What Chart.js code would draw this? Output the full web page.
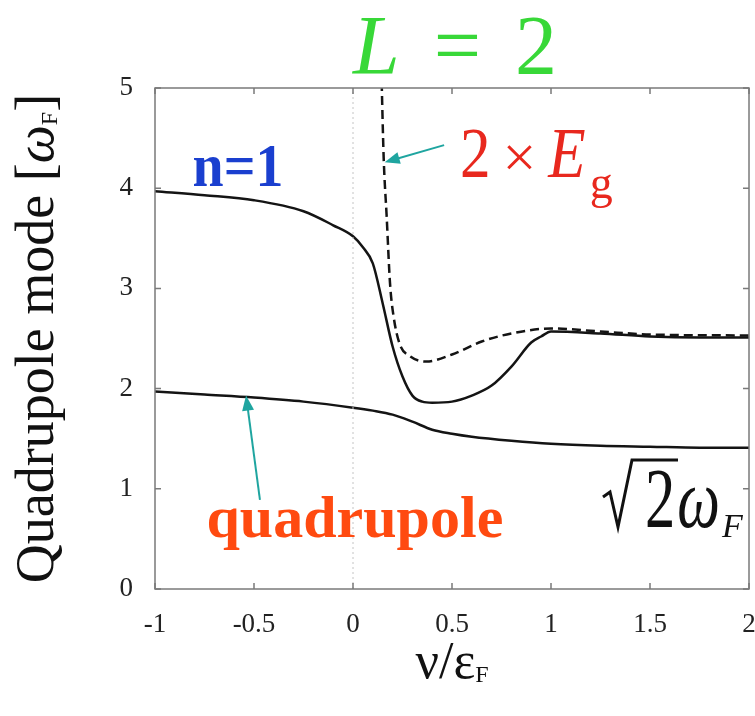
<!DOCTYPE html>
<html>
<head>
<meta charset="utf-8">
<script src="https://cdn.jsdelivr.net/npm/chart.js@4.4.1/dist/chart.umd.min.js"></script>
<style>
  html, body { margin: 0; padding: 0; background: #fff; }
</style>
</head>
<body>
<canvas id="quadChart" width="755" height="716"></canvas>
<script>
// n=1 mode (upper solid curve)
const upperX = [-1, -0.75, -0.5, -0.25, -0.1, 0, 0.05, 0.1, 0.15, 0.2, 0.25, 0.3, 0.35, 0.4, 0.5, 0.6, 0.7, 0.8, 0.9, 0.95, 1.0, 1.25, 1.5, 1.75, 2.0];
const upperY = [3.97, 3.93, 3.88, 3.77, 3.63, 3.52, 3.41, 3.25, 2.85, 2.42, 2.12, 1.93, 1.87, 1.86, 1.87, 1.93, 2.03, 2.22, 2.46, 2.52, 2.57, 2.55, 2.52, 2.51, 2.51];

// 2 x Eg (dashed)
const gapX = [0.143, 0.155, 0.17, 0.187, 0.205, 0.235, 0.29, 0.37, 0.5, 0.65, 0.8, 1.0, 1.25, 1.5, 2.0];
const gapY = [5.2, 4.3, 3.72, 3.05, 2.72, 2.45, 2.32, 2.27, 2.34, 2.47, 2.55, 2.60, 2.57, 2.54, 2.53];

// quadrupole mode (lower solid curve)
const quadX = [-1, -0.75, -0.5, -0.25, 0, 0.1, 0.2, 0.3, 0.4, 0.5, 0.6, 0.8, 1.0, 1.25, 1.5, 1.75, 2.0];
const quadY = [1.97, 1.94, 1.91, 1.87, 1.81, 1.78, 1.74, 1.67, 1.59, 1.55, 1.52, 1.48, 1.45, 1.43, 1.42, 1.41, 1.41];

// nu = 0 guide
const zeroX = [0, 0];
const zeroY = [0, 5];

const xTicks = [-1, -0.5, 0, 0.5, 1, 1.5, 2];
const yTicks = [0, 1, 2, 3, 4, 5];

const SERIF = '"Liberation Serif", "Times New Roman", serif';

function pts(xs, ys) {
    return xs.map((x, i) => ({ x: x, y: ys[i] }));
}

// draw a run of text pieces (different fonts / subscripts) in the current transform
function run(ctx, parts, x, y, align) {
    let total = 0;
    parts.forEach(p => {
        ctx.font = p.font;
        p.w = ctx.measureText(p.t).width * (p.sx || 1) + (p.gap || 0);
        total += p.w;
    });
    let cx = align === 'center' ? x - total / 2 : x;
    parts.forEach(p => {
        ctx.save();
        ctx.font = p.font;
        ctx.fillStyle = p.color || '#111';
        ctx.textAlign = 'left';
        ctx.textBaseline = 'alphabetic';
        ctx.translate(cx, y + (p.dy || 0));
        ctx.scale(p.sx || 1, 1);
        ctx.fillText(p.t, 0, 0);
        ctx.restore();
        cx += p.w;
    });
}

function arrow(ctx, x1, y1, x2, y2, color) {
    const a = Math.atan2(y2 - y1, x2 - x1);
    const len = 15, w = 6;
    ctx.save();
    ctx.strokeStyle = color;
    ctx.fillStyle = color;
    ctx.lineWidth = 2;
    ctx.beginPath();
    ctx.moveTo(x1, y1);
    ctx.lineTo(x2 - len * 0.6 * Math.cos(a), y2 - len * 0.6 * Math.sin(a));
    ctx.stroke();
    ctx.beginPath();
    ctx.moveTo(x2, y2);
    ctx.lineTo(x2 - len * Math.cos(a) + w * Math.sin(a), y2 - len * Math.sin(a) - w * Math.cos(a));
    ctx.lineTo(x2 - len * Math.cos(a) - w * Math.sin(a), y2 - len * Math.sin(a) + w * Math.cos(a));
    ctx.closePath();
    ctx.fill();
    ctx.restore();
}

const decorations = {
    id: 'decorations',
    afterDraw(chart) {
        const ctx = chart.ctx;
        const area = chart.chartArea;
        const sx = chart.scales.x, sy = chart.scales.y;
        const X = v => sx.getPixelForValue(v);
        const Y = v => sy.getPixelForValue(v);

        // frame and inward ticks
        ctx.save();
        ctx.strokeStyle = '#7a7a7a';
        ctx.lineWidth = 1.5;
        ctx.strokeRect(area.left, area.top, area.right - area.left, area.bottom - area.top);
        ctx.beginPath();
        xTicks.forEach(v => {
            ctx.moveTo(X(v), area.bottom); ctx.lineTo(X(v), area.bottom - 6);
            ctx.moveTo(X(v), area.top); ctx.lineTo(X(v), area.top + 6);
        });
        yTicks.forEach(v => {
            ctx.moveTo(area.left, Y(v)); ctx.lineTo(area.left + 6, Y(v));
            ctx.moveTo(area.right, Y(v)); ctx.lineTo(area.right - 6, Y(v));
        });
        ctx.stroke();
        ctx.restore();

        // title L = 2
        run(ctx, [
            { t: 'L', font: 'italic 84px ' + SERIF, color: '#38d838', gap: 34 },
            { t: '=', font: '84px ' + SERIF, color: '#38d838', gap: 34 },
            { t: '2', font: '84px ' + SERIF, color: '#38d838' }
        ], 455, 74, 'center');

        // y axis title
        ctx.save();
        ctx.translate(53, (area.top + area.bottom) / 2);
        ctx.rotate(-Math.PI / 2);
        run(ctx, [
            { t: 'Quadrupole mode [', font: '54px ' + SERIF },
            { t: '\u03c9', font: 'italic 54px ' + SERIF },
            { t: 'F', font: '24px ' + SERIF, dy: 4 },
            { t: ']', font: '54px ' + SERIF }
        ], 0, 0, 'center');
        ctx.restore();

        // x axis title
        run(ctx, [
            { t: '\u03bd', font: '52px ' + SERIF },
            { t: '/', font: '52px ' + SERIF },
            { t: '\u03b5', font: '52px ' + SERIF },
            { t: 'F', font: '24px ' + SERIF, dy: 4 }
        ], (area.left + area.right) / 2, 678, 'center');

        // n=1
        run(ctx, [{ t: 'n=1', font: 'bold 62px ' + SERIF, color: '#1a3fcf', sx: 0.9 }], X(-0.81), Y(4.02), 'left');

        // 2 x Eg
        run(ctx, [
            { t: '2', font: '72px ' + SERIF, color: '#e8281e', sx: 0.85, gap: 12 },
            { t: '\u00d7', font: '60px ' + SERIF, color: '#e8281e', gap: 12 },
            { t: 'E', font: 'italic 72px ' + SERIF, color: '#e8281e', sx: 0.85, gap: 4 },
            { t: 'g', font: '46px ' + SERIF, color: '#e8281e', dy: 21 }
        ], X(0.54), Y(4.11), 'left');
        arrow(ctx, X(0.46), Y(4.43), X(0.16), Y(4.26), '#1fa5a0');

        // quadrupole
        run(ctx, [{ t: 'quadrupole', font: 'bold 60px ' + SERIF, color: '#ff4a10' }], X(-0.74), Y(0.52), 'left');
        arrow(ctx, X(-0.47), Y(0.89), X(-0.54), Y(1.93), '#1fa5a0');

        // sqrt(2) omega_F
        ctx.save();
        ctx.strokeStyle = '#111';
        ctx.lineWidth = 3;
        ctx.lineJoin = 'miter';
        ctx.beginPath();
        ctx.moveTo(603, 497);
        ctx.lineTo(610, 492);
        ctx.lineTo(618, 527);
        ctx.lineTo(632, 460);
        ctx.lineTo(678, 460);
        ctx.stroke();
        ctx.restore();
        run(ctx, [
            { t: '2', font: '84px ' + SERIF, sx: 0.72, gap: 2 },
            { t: '\u03c9', font: 'italic 84px ' + SERIF, sx: 0.72, gap: 2 },
            { t: 'F', font: 'italic 34px ' + SERIF, dy: 10 }
        ], 645, 527, 'left');
    }
};

new Chart(document.getElementById('quadChart'), {
    type: 'line',
    data: {
        datasets: [
            {
                label: 'nu = 0',
                data: pts(zeroX, zeroY),
                borderColor: '#c4c4c4',
                borderWidth: 1,
                borderDash: [2, 3],
                pointRadius: 0
            },
            {
                label: 'quadrupole',
                data: pts(quadX, quadY),
                borderColor: '#141414',
                borderWidth: 2.5,
                pointRadius: 0,
                cubicInterpolationMode: 'monotone'
            },
            {
                label: 'n=1',
                data: pts(upperX, upperY),
                borderColor: '#141414',
                borderWidth: 2.5,
                pointRadius: 0,
                cubicInterpolationMode: 'monotone'
            },
            {
                label: '2 x Eg',
                data: pts(gapX, gapY),
                borderColor: '#141414',
                borderWidth: 2.5,
                borderDash: [9, 5],
                pointRadius: 0,
                cubicInterpolationMode: 'monotone'
            }
        ]
    },
    options: {
        responsive: false,
        animation: false,
        layout: {
            padding: { top: 88, right: 6, left: 0, bottom: 0 }
        },
        plugins: {
            legend: { display: false },
            title: { display: false },
            tooltip: { enabled: false }
        },
        scales: {
            x: {
                type: 'linear',
                min: -1,
                max: 2,
                afterBuildTicks: s => { s.ticks = xTicks.map(v => ({ value: v })); },
                afterFit: s => {
                    s.height = 127;
                    s.paddingLeft = 0;
                    s.paddingRight = 0;
                },
                ticks: {
                    autoSkip: false,
                    maxRotation: 0,
                    padding: 20,
                    color: '#222',
                    font: { family: SERIF, size: 27 },
                    callback: v => String(v)
                },
                grid: { display: false, drawTicks: false },
                border: { display: false }
            },
            y: {
                type: 'linear',
                min: 0,
                max: 5,
                afterBuildTicks: s => { s.ticks = yTicks.map(v => ({ value: v })); },
                afterFit: s => {
                    s.width = 155;
                    s.paddingTop = 0;
                    s.paddingBottom = 0;
                },
                ticks: {
                    padding: 22,
                    color: '#222',
                    font: { family: SERIF, size: 27 },
                    callback: v => String(v)
                },
                grid: { display: false, drawTicks: false },
                border: { display: false }
            }
        }
    },
    plugins: [decorations]
});
</script>
</body>
</html>
